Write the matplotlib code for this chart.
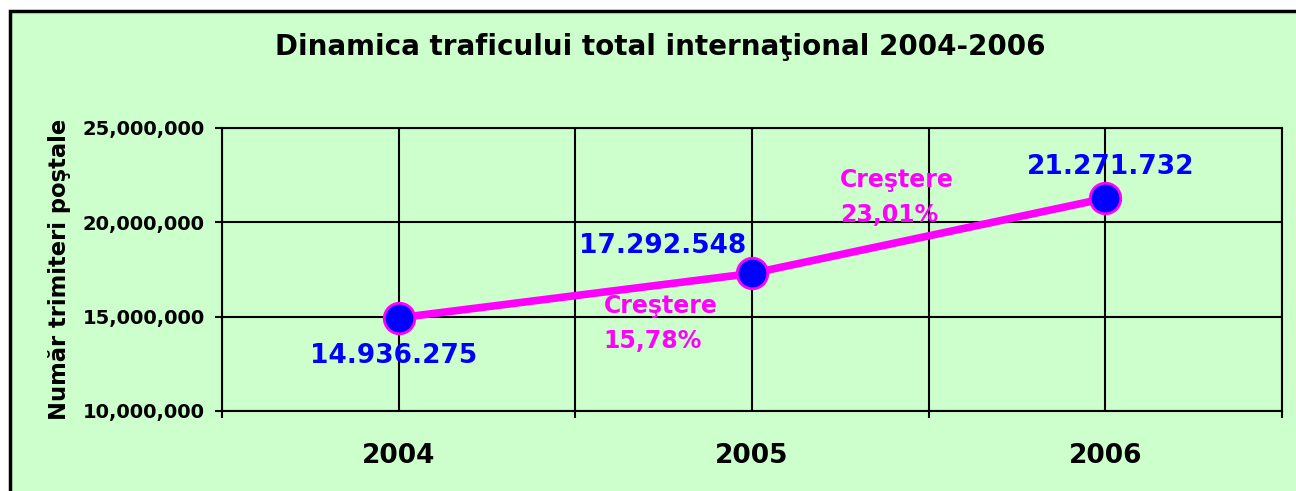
import matplotlib
matplotlib.use("Agg")
import matplotlib.pyplot as plt
from matplotlib.patches import Rectangle
from matplotlib.ticker import FuncFormatter, FixedLocator

years = ["2004", "2005", "2006"]
values = [14936275, 17292548, 21271732]
value_labels = ["14.936.275", "17.292.548", "21.271.732"]
growth_labels = ["Creştere\n15,78%", "Creştere\n23,01%"]
title = "Dinamica traficului total internaţional 2004-2006"
ylabel = "Număr trimiteri poştale"

W, H = 1296, 491
fig = plt.figure(figsize=(W / 100, H / 100), dpi=100)
fig.patch.set_facecolor("white")
bg = "#CCFFCC"
fig.patches.append(Rectangle((10 / W, -0.1), 1.2, 1 - 11 / H + 0.1,
                             transform=fig.transFigure, facecolor=bg,
                             edgecolor="black", linewidth=2.5, zorder=-5))

ax = fig.add_axes([222 / W, 1 - 411 / H, (1282 - 222) / W, (411 - 128) / H])
ax.set_facecolor(bg)
x = list(range(len(years)))
ax.plot(x, values, color="#FF00FF", linewidth=5.5, marker="o", markersize=22,
        markerfacecolor="#0000FF", markeredgecolor="#FF00FF", markeredgewidth=2,
        zorder=5, clip_on=False)

ax.set_xlim(-0.5, len(years) - 0.5)
ax.set_ylim(10_000_000, 25_000_000)
ax.set_yticks([10_000_000, 15_000_000, 20_000_000, 25_000_000])
ax.yaxis.set_major_formatter(FuncFormatter(lambda v, p: f"{int(v):,}"))
ax.set_xticks(x)
ax.set_xticklabels(years)
ax.xaxis.set_minor_locator(FixedLocator([i - 0.5 for i in range(len(years) + 1)]))

ax.grid(True, which="both", axis="x", color="black", linewidth=1.5)
ax.grid(True, which="major", axis="y", color="black", linewidth=1.5)
ax.set_axisbelow(True)
for s in ax.spines.values():
    s.set_color("black")
    s.set_linewidth(1.5)

ax.tick_params(axis="y", which="major", length=5, width=1.5, labelsize=14, pad=7.5)
ax.tick_params(axis="x", which="major", length=0, labelsize=19, pad=23)
ax.tick_params(axis="x", which="minor", length=5, width=1.5)
for lbl in ax.get_xticklabels() + ax.get_yticklabels():
    lbl.set_fontweight("bold")

ax.set_ylabel(ylabel, fontsize=16.3, fontweight="bold")
ax.yaxis.set_label_coords(-0.1425, 0.5)

offsets_px = [(-5, -38), (-89, 27), (5, 31)]
for xi, v, lab, (dx, dy) in zip(x, values, value_labels, offsets_px):
    ax.annotate(lab, (xi, v), xytext=(dx * 0.72, dy * 0.72), textcoords="offset points",
                ha="center", va="center", color="#0000FF", fontsize=19,
                fontweight="bold", zorder=6)

growth_pos = [(0.360, 0.309), (0.583, 0.754)]
for (gx, gy), g in zip(growth_pos, growth_labels):
    ax.text(gx, gy, g, transform=ax.transAxes, ha="left", va="center",
            color="#FF00FF", fontsize=17, fontweight="bold", linespacing=1.55,
            zorder=6)

fig.text(660 / W, 1 - 47 / H, title, ha="center", va="center",
         fontsize=20, fontweight="bold")

fig.savefig("out.png", dpi=100, facecolor=fig.get_facecolor())
